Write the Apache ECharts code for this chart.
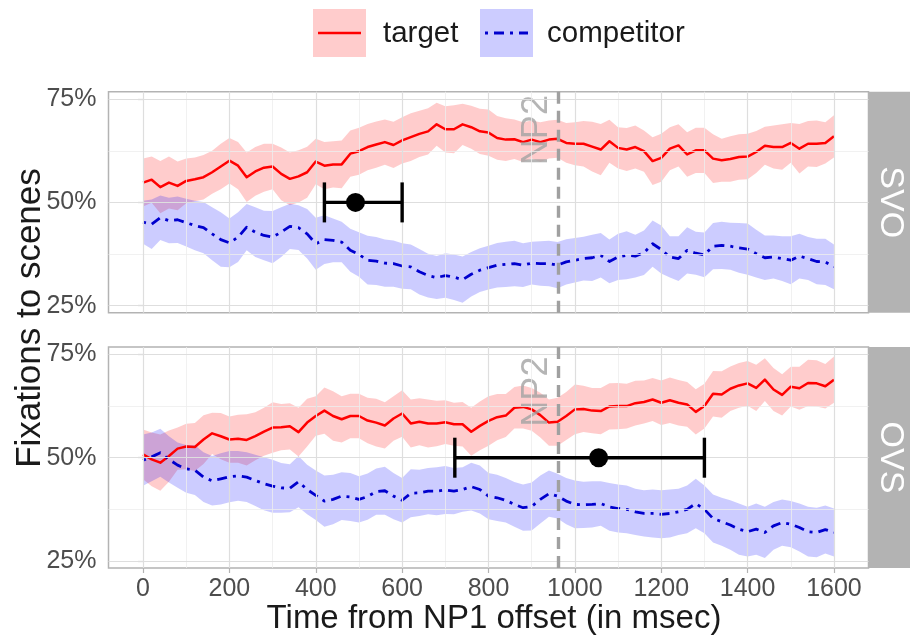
<!DOCTYPE html>
<html>
<head>
<meta charset="utf-8">
<script src="https://cdn.jsdelivr.net/npm/echarts@6/dist/echarts.min.js"></script>
<style>
  html, body { margin: 0; padding: 0; background: #fff; }
  #chart { width: 910px; height: 640px; }
</style>
</head>
<body>
<div id="chart"></div>
<script>
// time bins (ms from NP1 offset)
const time = [0,20,40,60,80,100,120,140,160,180,200,220,240,260,280,300,320,340,360,380,
  400,420,440,460,480,500,520,540,560,580,600,620,640,660,680,700,720,740,760,780,
  800,820,840,860,880,900,920,940,960,980,1000,1020,1040,1060,1080,1100,1120,1140,1160,1180,
  1200,1220,1240,1260,1280,1300,1320,1340,1360,1380,1400,1420,1440,1460,1480,1500,1520,1540,1560,1580,1600];

// SVO panel
const svoTarget = [54.8,55.5,53.7,54.8,54.0,55.2,55.6,56.1,57.3,58.7,60.1,58.9,56.1,57.5,58.4,58.7,56.9,55.7,56.3,57.3,
  59.9,58.9,59.2,59.2,61.8,62.4,63.4,64.0,64.6,63.9,65.0,65.8,66.6,67.2,68.9,67.7,67.7,68.9,68.2,67.2,
  66.9,65.6,65.2,65.3,64.6,65.2,64.6,65.2,65.4,64.4,64.2,64.2,63.5,62.8,64.8,63.2,62.8,63.4,62.4,60.0,
  60.8,63.0,63.8,61.6,62.6,62.6,60.6,60.2,60.5,61.0,61.1,62.2,63.7,63.4,63.4,64.4,63.0,64.2,64.2,64.4,66.0];
const svoTargetSe = [5.8,5.6,6.3,6.3,5.9,5.4,5.3,5.4,5.2,5.5,5.5,5.7,6.0,5.9,5.8,5.5,6.4,6.4,6.3,6.2,
  5.5,5.7,5.6,5.8,5.6,5.7,5.6,5.6,5.5,5.6,5.6,5.8,5.6,5.6,5.2,5.6,5.8,5.0,5.2,5.5,
  5.6,5.3,5.2,4.8,4.8,4.6,4.8,4.6,4.6,4.8,5.2,5.5,6.0,6.2,5.2,5.0,5.2,5.2,5.0,5.8,
  5.8,5.2,5.1,5.4,5.5,5.5,5.9,5.2,5.5,5.5,5.5,5.1,4.6,5.2,5.5,4.8,6.0,5.5,5.6,5.0,5.1];
const svoComp = [45.2,44.7,46.3,45.6,45.8,45.1,44.4,43.9,42.4,41.0,40.2,41.6,44.0,42.8,42.0,41.6,42.8,44.2,43.9,42.4,
  40.0,41.0,40.8,40.4,38.4,37.4,36.0,35.8,35.3,35.2,34.6,34.4,33.2,32.3,31.8,32.3,31.9,31.3,32.6,33.6,
  34.2,34.8,35.0,35.2,34.8,35.3,35.2,35.2,34.8,35.6,36.0,36.4,36.6,37.2,35.7,36.8,37.2,37.0,37.8,40.0,
  38.6,36.8,36.4,38.4,37.7,37.3,39.4,39.6,39.4,39.0,38.7,37.6,36.6,36.8,36.4,36.0,37.0,36.4,35.7,35.6,34.4];
const svoCompSe = [5.2,6.0,5.4,5.5,5.6,5.8,6.0,6.2,6.4,6.6,5.9,6.0,5.6,6.0,6.0,6.3,6.0,5.5,5.4,6.0,
  6.3,5.9,5.3,4.9,5.2,5.4,5.9,5.8,5.7,5.6,5.5,5.4,5.5,5.3,5.2,5.4,5.5,5.6,5.4,5.3,
  5.3,5.4,5.5,5.5,5.3,5.2,5.4,5.5,5.6,5.5,5.4,5.3,5.6,5.4,5.3,5.6,5.8,5.2,5.4,5.6,
  5.8,5.0,5.4,5.6,5.2,5.4,5.6,5.7,5.7,6.0,6.2,5.8,5.4,5.2,5.4,5.8,5.4,5.2,5.5,5.6,5.4];

// OVS panel
const ovsTarget = [50.8,49.6,48.8,50.4,52.2,52.7,52.6,54.4,55.9,55.2,54.4,54.6,54.3,55.2,56.3,57.3,57.4,57.6,56.2,58.5,
  60.1,61.4,60.1,59.3,60.1,60.1,59.0,58.5,57.8,59.5,60.7,58.3,58.7,58.3,58.3,58.6,58.1,58.1,56.3,57.7,
  58.9,59.8,60.2,62.1,62.3,61.7,60.3,58.5,58.7,60.1,61.7,61.8,61.4,61.3,62.4,62.5,62.5,63.2,63.5,64.1,
  63.3,63.9,63.3,62.9,61.1,62.5,65.5,65.3,66.7,67.5,68.0,66.9,68.9,66.5,65.2,67.2,66.8,68.1,68.0,67.3,68.9];
const ovsTargetSe = [6.0,6.5,6.8,6.2,5.1,5.5,5.8,5.9,5.0,5.6,5.6,5.8,6.2,5.8,5.8,6.1,5.6,5.6,5.9,5.8,
  4.8,5.6,6.0,5.6,5.4,5.4,5.5,5.8,5.6,5.4,5.6,5.8,5.7,5.8,5.5,5.3,5.2,5.4,5.8,5.9,
  6.0,5.6,5.2,5.0,5.2,5.2,5.4,5.6,5.8,5.8,6.0,5.6,5.5,5.6,5.6,5.6,5.4,5.4,5.2,5.2,
  5.4,5.5,5.5,5.4,5.5,5.4,5.5,5.6,5.4,5.4,5.4,5.6,5.2,5.2,5.0,4.8,5.2,5.6,5.6,5.4,5.6];
const ovsComp = [49.4,50.2,51.2,49.6,48.2,47.3,47.0,45.3,44.4,44.9,45.4,45.6,45.3,44.5,43.7,43.1,42.7,42.6,44.2,42.3,
  40.9,39.5,39.9,40.7,40.5,39.9,40.6,41.8,42.0,40.7,39.7,41.4,41.5,41.9,41.9,42.2,41.9,42.3,43.0,42.3,
  40.7,40.3,39.7,38.7,37.9,38.2,39.9,41.3,40.7,39.5,38.7,38.6,38.7,38.9,38.1,37.7,37.5,36.9,36.5,36.5,
  36.3,36.5,36.9,37.5,38.9,37.5,35.3,34.5,33.7,32.7,32.1,32.7,31.9,33.5,34.3,33.9,33.1,32.1,31.9,32.6,31.9];
const ovsCompSe = [6.2,5.9,5.8,5.6,5.5,5.8,6.0,6.0,6.0,6.2,6.2,6.0,6.0,6.2,6.4,6.4,6.0,5.8,6.2,6.0,
  6.0,6.2,6.0,5.8,5.8,5.6,5.6,5.6,5.8,5.6,5.4,5.8,5.6,5.6,5.8,5.8,5.6,5.4,5.8,5.8,
  5.6,5.6,5.4,5.4,5.6,5.8,5.8,5.6,5.4,5.6,5.8,5.6,5.6,5.4,5.8,5.8,5.8,5.6,5.6,5.8,
  5.8,5.8,5.6,5.8,6.0,5.8,5.8,5.8,6.0,6.2,6.0,6.2,6.2,5.8,5.6,5.6,5.8,6.0,6.0,5.8,5.8];

// NP2 divergence estimate: [lower, point, upper] in ms, at y = 50%
const svoErr = [420, 492, 600];
const ovsErr = [722, 1055, 1300];
const np2 = 962;

const xTicks = [0, 200, 400, 600, 800, 1000, 1200, 1400, 1600];
const xMinor = [100, 300, 500, 700, 900, 1100, 1300, 1500];
const yTicks = [25, 50, 75];
const yMinor = [37.5, 62.5];

const FONT = 'Liberation Sans, Arial, sans-serif';
const chart = echarts.init(document.getElementById('chart'));

const panelTop = [91.7, 347];
const panelH = 221;
const panelL = 108.5;
const panelW = 760;

function gridLines(i) {
  const major = { color: '#DEDEDE', width: 1.2, type: 'solid' };
  const minor = { color: '#EDEDED', width: 0.8, type: 'solid' };
  const d = [];
  xMinor.forEach(v => d.push({ xAxis: v, lineStyle: minor }));
  yMinor.forEach(v => d.push({ yAxis: v, lineStyle: minor }));
  xTicks.forEach(v => d.push({ xAxis: v, lineStyle: major }));
  yTicks.forEach(v => d.push({ yAxis: v, lineStyle: major }));
  return {
    type: 'line', xAxisIndex: i, yAxisIndex: i, z: 1, silent: true,
    data: [[0, 50]], showSymbol: false, lineStyle: { width: 0 },
    markLine: { silent: true, symbol: ['none', 'none'], label: { show: false }, animation: false, data: d }
  };
}

// ribbon = mean +/- se, drawn as one polygon through the axes' scales
function band(i, mean, se, color) {
  const rows = mean.map((v, k) => [time[k], +(v - se[k]).toFixed(2), +(v + se[k]).toFixed(2)]);
  return {
    type: 'custom', xAxisIndex: i, yAxisIndex: i, z: 2, silent: true,
    data: rows,
    encode: { x: 0, y: [1, 2] },
    renderItem: function (params, api) {
      if (params.dataIndex !== 0) return null;
      const up = rows.map(r => api.coord([r[0], r[2]]));
      const lo = rows.map(r => api.coord([r[0], r[1]])).reverse();
      return { type: 'polygon', shape: { points: up.concat(lo) }, style: { fill: color } };
    }
  };
}

function meanLine(i, mean, color, type, w) {
  return {
    type: 'line', xAxisIndex: i, yAxisIndex: i, z: 3, showSymbol: false, silent: true,
    data: mean.map((v, k) => [time[k], v]),
    lineStyle: { color: color, width: w, type: type, cap: 'butt', join: 'round' }
  };
}

function np2Line(i, labelY) {
  return {
    type: 'scatter', xAxisIndex: i, yAxisIndex: i, z: 4, silent: true,
    data: [[912, labelY]], symbolSize: 1, itemStyle: { color: 'rgba(0,0,0,0)' },
    label: { show: true, position: 'inside', rotate: 90, formatter: 'NP2',
      fontSize: 36, fontFamily: FONT, color: '#A3A3A3' },
    markLine: { silent: true, symbol: ['none', 'none'], label: { show: false }, animation: false,
      lineStyle: { color: '#A0A0A0', width: 3.4, type: [12, 7] },
      data: [{ xAxis: np2 }] }
  };
}

function errBar(i, e) {
  return {
    type: 'custom', xAxisIndex: i, yAxisIndex: i, z: 5, silent: true,
    data: [[e[0], e[1], e[2], 50]],
    renderItem: function (params, api) {
      const a = api.coord([api.value(0), api.value(3)]);
      const m = api.coord([api.value(1), api.value(3)]);
      const b = api.coord([api.value(2), api.value(3)]);
      const st = { stroke: '#000', lineWidth: 3.4 };
      return {
        type: 'group',
        children: [
          { type: 'line', shape: { x1: a[0], y1: a[1], x2: b[0], y2: b[1] }, style: st },
          { type: 'line', shape: { x1: a[0], y1: a[1] - 20, x2: a[0], y2: a[1] + 20 }, style: st },
          { type: 'line', shape: { x1: b[0], y1: b[1] - 20, x2: b[0], y2: b[1] + 20 }, style: st },
          { type: 'circle', shape: { cx: m[0], cy: m[1], r: 9.5 }, style: { fill: '#000' } }
        ]
      };
    }
  };
}

const dashDot = [3, 6, 10, 6];

function panel(i, tgt, tgtSe, cmp, cmpSe, err, labelY) {
  return [
    gridLines(i),
    band(i, tgt, tgtSe, 'rgba(255,0,0,0.2)'),
    band(i, cmp, cmpSe, 'rgba(0,0,255,0.2)'),
    meanLine(i, tgt, '#FF0000', 'solid', 2.5),
    meanLine(i, cmp, '#0000CD', dashDot, 2.8),
    np2Line(i, labelY),
    errBar(i, err)
  ];
}

function xAxis(i) {
  return {
    type: 'value', gridIndex: i, min: -80, max: 1680,
    splitLine: { show: false }, axisLine: { show: false },
    axisTick: { show: i === 1, customValues: xTicks, length: 5, lineStyle: { color: '#B3B3B3', width: 1.2 } },
    axisLabel: { show: i === 1, customValues: xTicks, margin: 9, fontSize: 25, fontFamily: FONT, color: '#4D4D4D',
      formatter: v => String(v) }
  };
}
function yAxis(i) {
  return {
    type: 'value', gridIndex: i, min: 23.3, max: 76.8,
    splitLine: { show: false }, axisLine: { show: false },
    axisTick: { show: true, customValues: yTicks, length: 5, lineStyle: { color: '#B3B3B3', width: 1.2 } },
    axisLabel: { customValues: yTicks, margin: 12, fontSize: 25, fontFamily: FONT, color: '#4D4D4D',
      formatter: v => v + '%' }
  };
}

const strips = ['SVO', 'OVS'];
const graphics = [];
panelTop.forEach((t, i) => {
  graphics.push({ type: 'rect', shape: { x: panelL + panelW + 0.5, y: t, width: 42, height: panelH },
    style: { fill: '#B3B3B3' }, silent: true });
  graphics.push({ type: 'text', x: panelL + panelW + 21.5, y: t + panelH / 2, rotation: -Math.PI / 2,
    style: { text: strips[i], fill: '#FFFFFF', fontSize: 34, fontFamily: FONT, align: 'center', verticalAlign: 'middle' } });
});
// legend keys
graphics.push(
  { type: 'rect', shape: { x: 313, y: 9, width: 53, height: 48 }, style: { fill: 'rgba(255,0,0,0.2)' } },
  { type: 'line', shape: { x1: 318, y1: 33, x2: 361, y2: 33 }, style: { stroke: '#FF0000', lineWidth: 2.5 } },
  { type: 'text', x: 383, y: 34, style: { text: 'target', fontSize: 29.5, fontFamily: FONT, fill: '#1A1A1A', verticalAlign: 'middle' } },
  { type: 'rect', shape: { x: 480, y: 9, width: 53, height: 48 }, style: { fill: 'rgba(0,0,255,0.2)' } },
  { type: 'line', shape: { x1: 485, y1: 33, x2: 528, y2: 33 }, style: { stroke: '#0000CD', lineWidth: 2.8, lineDash: dashDot } },
  { type: 'text', x: 547, y: 34, style: { text: 'competitor', fontSize: 29.5, fontFamily: FONT, fill: '#1A1A1A', verticalAlign: 'middle' } },
  { type: 'text', x: 30, y: 318, rotation: Math.PI / 2,
    style: { text: 'Fixations to scenes', fontSize: 35, fontFamily: FONT, fill: '#1A1A1A', align: 'center', verticalAlign: 'middle' } },
  { type: 'text', x: 494, y: 619,
    style: { text: 'Time from NP1 offset (in msec)', fontSize: 33, fontFamily: FONT, fill: '#1A1A1A', align: 'center', verticalAlign: 'middle' } }
);

chart.setOption({
  animation: false,
  backgroundColor: '#FFFFFF',
  grid: panelTop.map(t => ({
    left: panelL, top: t, width: panelW, height: panelH, show: true,
    backgroundColor: '#FFFFFF', borderColor: '#B3B3B3', borderWidth: 1.5
  })),
  xAxis: [xAxis(0), xAxis(1)],
  yAxis: [yAxis(0), yAxis(1)],
  series: [].concat(
    panel(0, svoTarget, svoTargetSe, svoComp, svoCompSe, svoErr, 67.5),
    panel(1, ovsTarget, ovsTargetSe, ovsComp, ovsCompSe, ovsErr, 66)
  ),
  graphic: graphics
});
</script>
</body>
</html>
